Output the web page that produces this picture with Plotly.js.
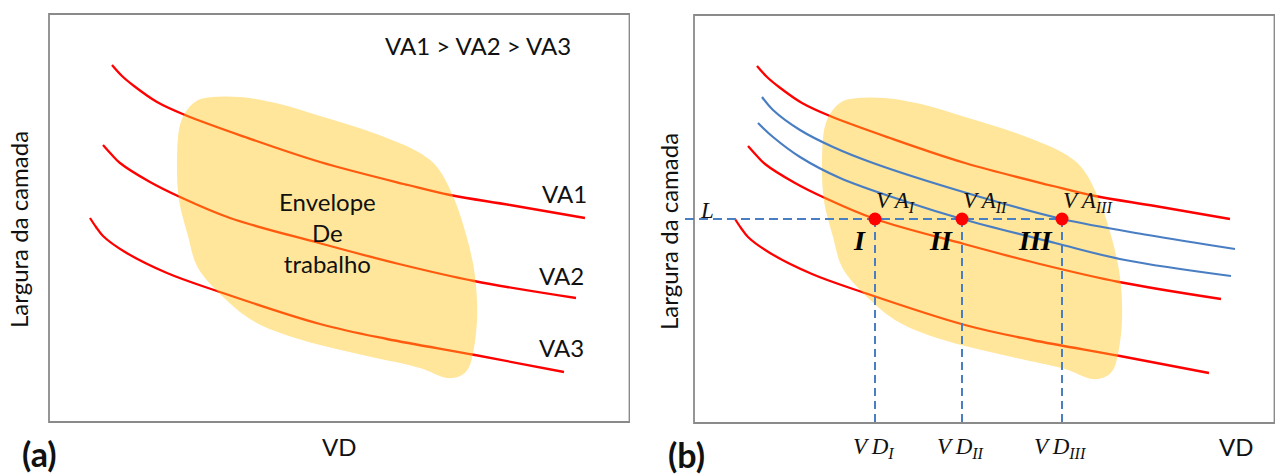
<!DOCTYPE html>
<html>
<head>
<meta charset="utf-8">
<script src="https://cdn.plot.ly/plotly-3.0.1.min.js"></script>
<style>
  html, body { margin: 0; padding: 0; background: #ffffff; }
  #chart { width: 1275px; height: 476px; }
</style>
</head>
<body>
<div id="chart"></div>
<script>
// Curves of layer width (largura) against VD for three VA levels (VA1 > VA2 > VA3)
const va1X = [6.3, 7.3, 8.5, 10.8, 13.6, 19.6, 27.1, 35.9, 40.1, 46.1, 53.6];
const va1Y = [35.7, 34.6, 33.6, 32.0, 30.7, 28.5, 26.0, 23.7, 22.7, 21.7, 20.4];
const va2X = [5.4, 6.3, 7.1, 10.1, 13.1, 18.1, 27.0, 35.0, 42.5, 52.7];
const va2Y = [27.7, 26.7, 25.9, 24.0, 22.5, 20.4, 17.9, 15.8, 14.1, 12.4];
const va3X = [4.1, 4.7, 5.4, 7.6, 11.8, 16.8, 27.1, 33.8, 42.6, 51.5];
const va3Y = [20.4, 19.5, 18.6, 17.0, 14.9, 13.1, 9.8, 8.3, 6.7, 5.0];

// Working envelope outline (closed)
const envelopeX = [16.4, 19.1, 23.1, 27.1, 30.4, 33.8, 37.1, 38.8, 40.4, 41.8, 42.6, 42.8, 42.4, 41.9, 41.1, 39.8, 37.1, 31.8, 27.1, 23.4, 20.1, 16.8, 14.8, 13.9, 13.0, 12.8, 13.1, 13.8, 14.9, 16.4];
const envelopeY = [32.5, 32.5, 31.8, 30.6, 29.6, 28.4, 26.9, 25.5, 22.6, 18.4, 14.6, 10.3, 6.9, 5.3, 4.6, 4.4, 5.4, 6.6, 7.7, 8.8, 10.3, 13.1, 15.6, 18.6, 22.2, 26.2, 29.7, 31.2, 32.2, 32.5];

// Intermediate VA curves of panel (b): VA_III (upper) and VA_II (lower)
const vaIIIX = [6.8, 7.9, 10.6, 13.9, 17.9, 26.6, 36.8, 45.4, 54.1];
const vaIIIY = [32.6, 31.3, 29.3, 27.6, 26.0, 23.2, 20.4, 18.8, 17.4];
const vaIIX = [6.4, 7.9, 10.6, 14.6, 21.3, 26.8, 36.1, 43.1, 53.7];
const vaIIY = [30.0, 28.6, 26.6, 24.5, 22.1, 20.4, 18.0, 16.3, 14.7];

// Operating points at the target width L
const opLabels = ['I', 'II', 'III'];
const opVD = [18.1, 26.8, 36.8];
const levelL = 20.4;
const levelLStart = -0.9;

const curveLabels = ['VA1', 'VA2', 'VA3'];

const W = 1275, H = 476;
const RED = '#ff0000';
const BLUE = '#4a7ec2';
const ENVELOPE_FILL = 'rgba(255,200,30,0.45)';
const SANS = 'Lato, "Open Sans", sans-serif';
const SERIF = '"Liberation Serif", "DejaVu Serif", serif';
const TEXT = '#111111';

function redCurve(x, y, xa, ya) {
  return { x, y, xaxis: xa, yaxis: ya, mode: 'lines', hoverinfo: 'skip',
           line: { color: RED, width: 2.3, shape: 'spline', smoothing: 1 } };
}
function blueCurve(x, y) {
  return { x, y, xaxis: 'x2', yaxis: 'y2', mode: 'lines', hoverinfo: 'skip',
           line: { color: BLUE, width: 2.2, shape: 'spline', smoothing: 1 } };
}
function envelope(xa, ya) {
  return { x: envelopeX, y: envelopeY, xaxis: xa, yaxis: ya, mode: 'lines',
           fill: 'toself', fillcolor: ENVELOPE_FILL, hoverinfo: 'skip',
           line: { width: 0, color: 'rgba(0,0,0,0)', shape: 'spline', smoothing: 1 } };
}

// Dashed guides: horizontal at L up to the last point, verticals down to the VD axis
const hGuide = { x: [levelLStart, opVD[opVD.length - 1]], y: [levelL, levelL] };
const vGuideX = [], vGuideY = [];
opVD.forEach(v => { vGuideX.push(v, v, null); vGuideY.push(levelL, 0, null); });

const traces = [
  // panel (a)
  redCurve(va1X, va1Y, 'x', 'y'),
  redCurve(va2X, va2Y, 'x', 'y'),
  redCurve(va3X, va3Y, 'x', 'y'),
  envelope('x', 'y'),
  // panel (b)
  redCurve(va1X, va1Y, 'x2', 'y2'),
  redCurve(va2X, va2Y, 'x2', 'y2'),
  redCurve(va3X, va3Y, 'x2', 'y2'),
  envelope('x2', 'y2'),
  blueCurve(vaIIIX, vaIIIY),
  blueCurve(vaIIX, vaIIY),
  { x: hGuide.x, y: hGuide.y, xaxis: 'x2', yaxis: 'y2', mode: 'lines', hoverinfo: 'skip',
    line: { color: BLUE, width: 2, dash: '9px,5px' } },
  { x: vGuideX, y: vGuideY, xaxis: 'x2', yaxis: 'y2', mode: 'lines', hoverinfo: 'skip',
    connectgaps: false, line: { color: BLUE, width: 2, dash: '8px,5px' } },
  { x: opVD, y: opVD.map(() => levelL), xaxis: 'x2', yaxis: 'y2', mode: 'markers',
    hoverinfo: 'skip', cliponaxis: false, marker: { color: RED, size: 13 } }
];

// paper position (centre of the text box) from pixel position on the page
const at = (px, py) => ({ x: px / W, y: 1 - py / H, xref: 'paper', yref: 'paper',
                          xanchor: 'center', yanchor: 'middle', showarrow: false });
const sansFont = (size) => ({ family: SANS, size, color: TEXT });
const mathFont = (size) => ({ family: SERIF, size, color: TEXT });

const annotations = [
  Object.assign(at(18, 230), { text: 'Largura da camada', textangle: -90, font: sansFont(24) }),
  Object.assign(at(668, 232), { text: 'Largura da camada', textangle: -90, font: sansFont(24) }),
  Object.assign(at(339, 446), { text: 'VD', font: sansFont(24) }),
  Object.assign(at(1236, 446), { text: 'VD', font: sansFont(24) }),
  Object.assign(at(39, 453), { text: '<b>(a)</b>', font: sansFont(34) }),
  Object.assign(at(686, 454), { text: '<b>(b)</b>', font: sansFont(34) }),
  Object.assign(at(478, 45), { text: curveLabels.join(' > '), font: sansFont(24) }),
  Object.assign(at(327, 232), { text: 'Envelope<br>De<br>trabalho', font: sansFont(24) }),
  Object.assign(at(564, 193), { text: curveLabels[0], font: sansFont(24) }),
  Object.assign(at(561, 275), { text: curveLabels[1], font: sansFont(24) }),
  Object.assign(at(561, 347), { text: curveLabels[2], font: sansFont(24) }),
  Object.assign(at(707, 210), { text: '<i>L</i>', font: mathFont(23) })
];

opVD.forEach((v, i) => {
  const sub = opLabels[i];
  annotations.push({
    x: v, y: levelL, xref: 'x2', yref: 'y2', xanchor: 'left', yanchor: 'bottom',
    xshift: -1, yshift: 1, showarrow: false, text: `<i>V\u2009A<sub>${sub}</sub></i>`,
    font: mathFont(23)
  });
  annotations.push({
    x: v, y: levelL, xref: 'x2', yref: 'y2', xanchor: 'right', yanchor: 'top',
    xshift: -7, yshift: -4, showarrow: false, text: `<b><i>${sub}</i></b>`,
    font: { family: SERIF, size: 28, color: '#000' }
  });
  annotations.push({
    x: v, y: 0, xref: 'x2', yref: 'y2', xanchor: 'center', yanchor: 'top',
    xshift: -2, yshift: -9, showarrow: false, text: `<i>V\u2009D<sub>${sub}</sub></i>`,
    font: mathFont(23)
  });
});

const frame = (xa, ya) => ({
  type: 'rect', xref: xa, yref: ya, x0: 0, x1: 58.05, y0: 0, y1: 40.8,
  line: { color: '#8a8a8a', width: 1.8 }, fillcolor: 'rgba(0,0,0,0)', layer: 'below'
});

const xRange = [-1, 58.1];
const yRange = [-1, 41.5];
const hidden = { visible: false, showgrid: false, zeroline: false, fixedrange: true };

const layout = {
  width: W, height: H,
  margin: { l: 0, r: 0, t: 0, b: 0 },
  paper_bgcolor: '#ffffff', plot_bgcolor: 'rgba(0,0,0,0)',
  showlegend: false,
  xaxis: Object.assign({ domain: [39 / W, 630 / W], range: xRange, anchor: 'y' }, hidden),
  yaxis: Object.assign({ domain: [44 / H, 469 / H], range: yRange, anchor: 'x' }, hidden),
  xaxis2: Object.assign({ domain: [684 / W, 1], range: xRange, anchor: 'y2' }, hidden),
  yaxis2: Object.assign({ domain: [43 / H, 468 / H], range: yRange, anchor: 'x2' }, hidden),
  shapes: [frame('x', 'y'), frame('x2', 'y2')],
  annotations
};

Plotly.newPlot('chart', traces, layout, { staticPlot: true, displayModeBar: false });
</script>
</body>
</html>
